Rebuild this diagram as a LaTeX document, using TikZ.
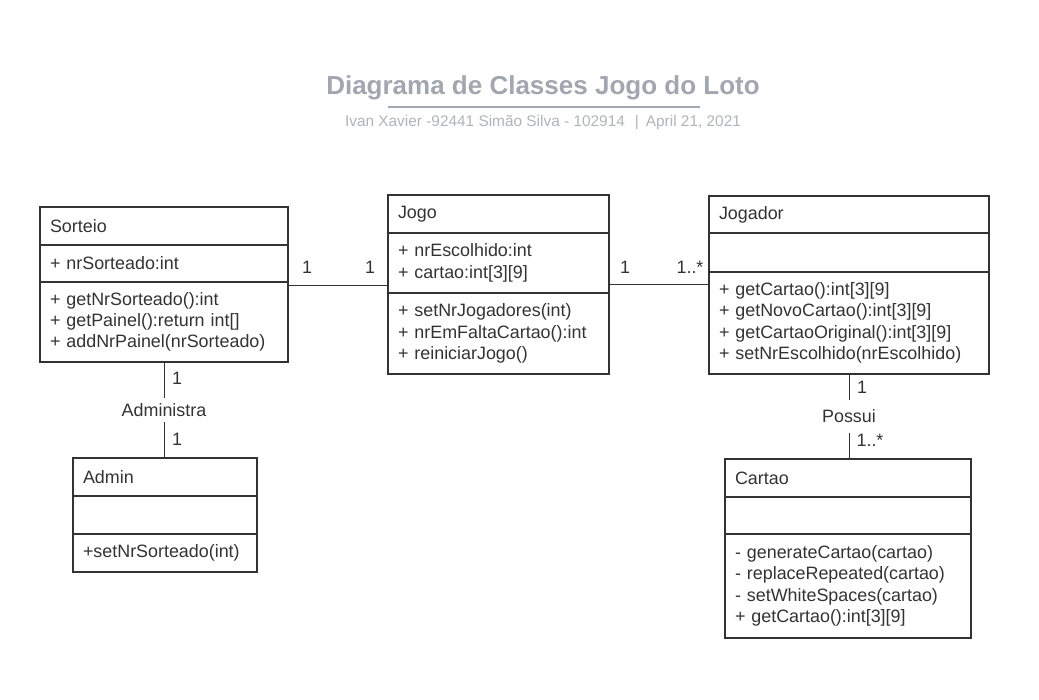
\documentclass[tikz,border=0pt]{standalone}
\usepackage{fontspec}
\setmainfont{Liberation Sans}
\usepackage{xcolor}
\usetikzlibrary{positioning, calc}
\definecolor{umlline}{HTML}{333333}
\definecolor{titlegray}{HTML}{A2A6AF}
\definecolor{subgray}{HTML}{B0B3BA}
\newcommand{\classfont}{\fontsize{17.9}{21.3}\selectfont}

\begin{document}
\begin{tikzpicture}[x=1pt, y=-1pt,
  part/.style={draw=umlline, line width=2pt, outer sep=0pt, inner xsep=10pt, inner ysep=0pt, align=left, font=\classfont, text=umlline},
  mult/.style={font=\classfont, text=umlline, inner sep=0pt},
  assoc/.style={draw=umlline, line width=1pt},
  rolename/.style={fill=white, font=\classfont, text=umlline, inner xsep=2pt}]
\useasboundingbox (0,0) rectangle (1039,699);

% title
\node[font=\fontsize{26}{30}\selectfont\bfseries, text=titlegray] (title) at (543,88) {Diagrama de Classes Jogo do Loto};
\draw[titlegray, line width=2pt] (388,107) -- (700,107);
\node[font=\fontsize{15.4}{18}\selectfont, text=subgray] (subtitle) at (543,123) {Ivan Xavier -92441 Simão Silva - 102914\hspace{10pt}|\hspace{7pt}April 21, 2021};

% Sorteio
\node[part, anchor=north west, text width=228pt, minimum height=38pt] (sorteio) at (40,207) {Sorteio};
\node[part, below=0pt of sorteio, text width=228pt, minimum height=37pt] (sorteio-attr) {+ nrSorteado:int};
\node[part, below=0pt of sorteio-attr, text width=228pt, minimum height=80pt] (sorteio-meth) {+ getNrSorteado():int\\+ getPainel():return int[]\\+ addNrPainel(nrSorteado)};

% Jogo
\node[part, anchor=north west, text width=201pt, minimum height=38pt] (jogo) at (388,195) {Jogo};
\node[part, below=0pt of jogo, text width=201pt, minimum height=60pt] (jogo-attr) {+ nrEscolhido:int\\+ cartao:int[3][9]};
\node[part, below=0pt of jogo-attr, text width=201pt, minimum height=81pt] (jogo-meth) {+ setNrJogadores(int)\\+ nrEmFaltaCartao():int\\+ reiniciarJogo()};

% Jogador
\node[part, anchor=north west, text width=260pt, minimum height=37pt] (jogador) at (709,196) {Jogador};
\node[part, below=0pt of jogador, text width=260pt, minimum height=39pt] (jogador-attr) {};
\node[part, below=0pt of jogador-attr, text width=260pt, minimum height=102pt] (jogador-meth) {+ getCartao():int[3][9]\\+ getNovoCartao():int[3][9]\\+ getCartaoOriginal():int[3][9]\\+ setNrEscolhido(nrEscolhido)};

% Admin
\node[part, anchor=north west, text width=164pt, minimum height=38pt] (admin) at (73,458) {Admin};
\node[part, below=0pt of admin, text width=164pt, minimum height=38pt] (admin-attr) {};
\node[part, below=0pt of admin-attr, text width=164pt, minimum height=38pt] (admin-meth) {+setNrSorteado(int)};

% Cartao
\node[part, anchor=north west, text width=226pt, minimum height=38pt] (cartao) at (725,459) {Cartao};
\node[part, below=0pt of cartao, text width=226pt, minimum height=37pt] (cartao-attr) {};
\node[part, below=0pt of cartao-attr, text width=226pt, minimum height=104pt] (cartao-meth) {- generateCartao(cartao)\\- replaceRepeated(cartao)\\- setWhiteSpaces(cartao)\\+ getCartao():int[3][9]};

% associations
\draw[assoc] ([yshift=-3pt]sorteio-meth.north east) coordinate (sj) -- (sj -| jogo-attr.west) coordinate (js);
\node[mult] at ($(sj)+(19,-18)$) {1};
\node[mult] at ($(js)+(-18,-18)$) {1};

\draw[assoc] ([yshift=-12pt]jogador-meth.north west) coordinate (gj) -- (gj -| jogo-attr.east) coordinate (jg);
\node[mult] at ($(jg)+(16,-17)$) {1};
\node[mult] at ($(gj)+(-19,-17)$) {1..*};

\draw[assoc] (sorteio-meth.south) -- node[rolename, inner ysep=5pt] (administra) {Administra} (sorteio-meth.south |- admin.north);
\node[mult] at ($(sorteio-meth.south)+(13,16)$) {1};
\node[mult] at ($(admin.north)+(12,-19)$) {1};

\draw[assoc] (jogador-meth.south) -- node[rolename, inner ysep=10pt] (possui) {Possui} (jogador-meth.south |- cartao.north);
\node[mult] at ($(jogador-meth.south)+(13,13)$) {1};
\node[mult] at ($(cartao.north)+(22,-19)$) {1..*};

\end{tikzpicture}
\end{document}
